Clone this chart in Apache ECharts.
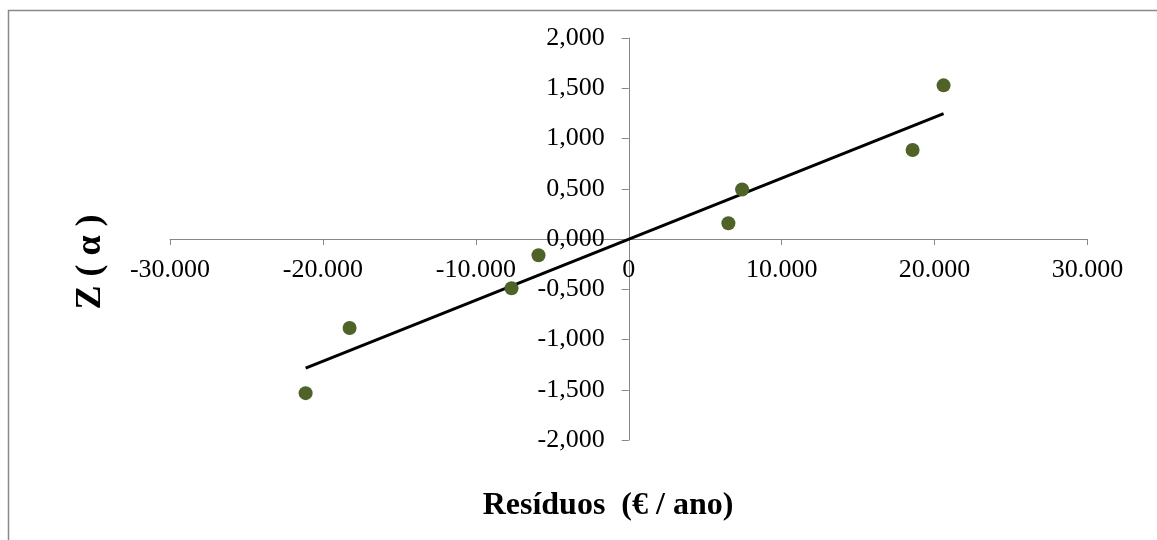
<!DOCTYPE html>
<html><head><meta charset="utf-8">
<script src="https://cdn.jsdelivr.net/npm/echarts@6/dist/echarts.min.js"></script>
<style>html,body{margin:0;padding:0;background:#fff}#c{width:1157px;height:540px}</style>
</head><body><div id="c"></div>
<script>
const residuals = [-21131, -18255, -7667, -5902, 6516, 7412, 18562, 20588];
const zScores = [-1.534, -0.886, -0.490, -0.162, 0.156, 0.492, 0.886, 1.529];
const trendX = [-21131, 20588];
const trendY = [-1.285, 1.248];
const xTitle = 'Resíduos  (€ / ano)';
const yTitle = 'Z ( α )';

const font = '"Liberation Serif","Times New Roman",serif';
function fmtX(v){
  const s = Math.abs(Math.round(v)).toString().replace(/\B(?=(\d{3})+(?!\d))/g, '.');
  return (v < 0 ? '-' : '') + s;
}
function fmtY(v){
  if (Math.abs(v) < 1e-9) v = 0;
  return v.toFixed(3).replace('.', ',');
}
const W = 1157, H = 540;
const G = {left:170, right:69.5, top:38, bottom:100};
const gw = W - G.left - G.right, gh = H - G.top - G.bottom;
const xMin = -30000, xMax = 30000, yMin = -2, yMax = 2;
// offsets to put each axis where the other crosses zero
const xAxisOffset = -gh * (0 - yMin) / (yMax - yMin);
const yAxisOffset = -gw * (0 - xMin) / (xMax - xMin);

const chart = echarts.init(document.getElementById('c'), null, {renderer:'canvas'});
chart.setOption({
  animation:false,
  backgroundColor:'#fff',
  grid:Object.assign({containLabel:false}, G),
  xAxis:{type:'value', min:xMin, max:xMax, interval:10000, position:'bottom', offset:xAxisOffset,
    axisLine:{onZero:false, lineStyle:{color:'#878787', width:1}},
    axisTick:{show:true, inside:false, length:6, lineStyle:{color:'#878787'}},
    splitLine:{show:false},
    axisLabel:{formatter:fmtX, color:'#000', fontFamily:font, fontSize:26, margin:18}
  },
  yAxis:{type:'value', min:yMin, max:yMax, interval:0.5, position:'left', offset:yAxisOffset,
    axisLine:{onZero:false, lineStyle:{color:'#878787', width:1}},
    axisTick:{show:true, inside:false, length:7, lineStyle:{color:'#878787'}},
    splitLine:{show:false},
    axisLabel:{formatter:fmtY, color:'#000', fontFamily:font, fontSize:26, margin:24}
  },
  series:[
    {type:'line', data:trendX.map((x,i)=>[x,trendY[i]]), symbol:'none',
      lineStyle:{color:'#000', width:3}, z:2},
    {type:'scatter', data:residuals.map((x,i)=>[x,zScores[i]]), symbolSize:14,
      itemStyle:{color:'#4f6228', opacity:1}, z:3}
  ],
  graphic:[
    {type:'rect', shape:{x:8.5, y:10.5, width:1170, height:560}, style:{fill:'none', stroke:'#898989', lineWidth:1.5}, silent:true},
    {type:'text', x:608, y:506, style:{text:xTitle, font:'bold 32px '+font, fill:'#000', textAlign:'center', textVerticalAlign:'middle'}},
    {type:'text', x:91, y:262, rotation:Math.PI/2, style:{text:yTitle, font:'bold 36px '+font, fill:'#000', textAlign:'center', textVerticalAlign:'middle'}}
  ]
});
</script></body></html>
